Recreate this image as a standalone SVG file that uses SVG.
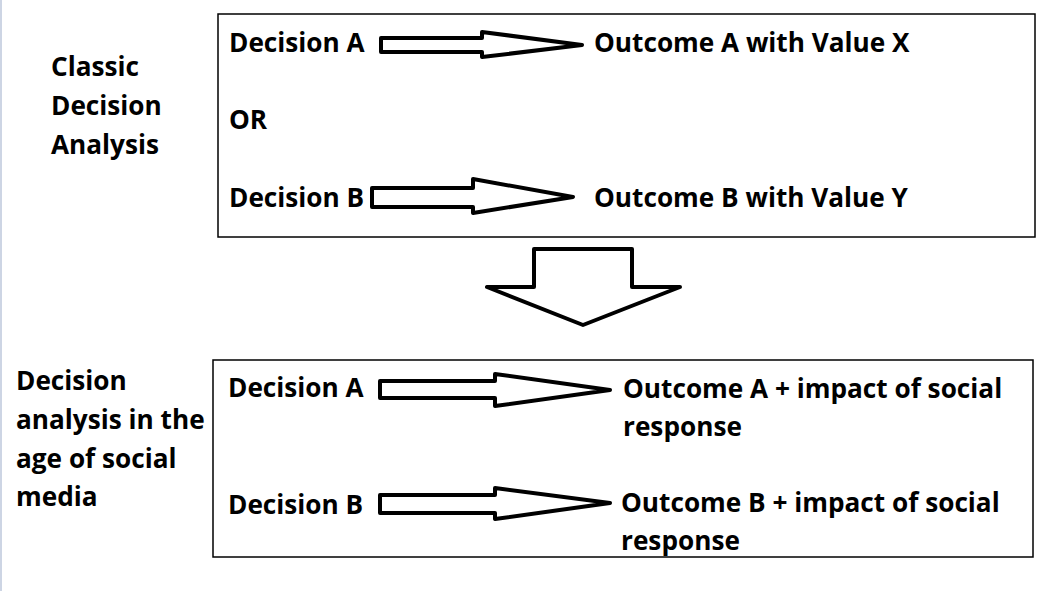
<svg xmlns="http://www.w3.org/2000/svg" width="1054" height="591" viewBox="0 0 1054 591">
<style>
text{font-family:"Open Sans","Liberation Sans",sans-serif;font-weight:bold;font-size:26.2px;fill:#000}
.box{fill:none;stroke:#000;stroke-width:1.5}
.arr{fill:#fff;stroke:#000;stroke-width:4;stroke-linejoin:round}
</style>
<rect x="0" y="0" width="1054" height="591" fill="#fff"/>
<rect x="0" y="0" width="2" height="591" fill="#cdd5e4"/>
<g id="labels">
<text x="51" y="76">Classic</text>
<text x="51" y="115">Decision</text>
<text x="51" y="154">Analysis</text>
<text x="16" y="390">Decision</text>
<text x="16" y="429">analysis in the</text>
<text x="16" y="468">age of social</text>
<text x="16" y="506">media</text>
</g>
<g id="box-classic">
<rect class="box" x="218" y="14" width="817" height="223"/>
<text x="229" y="52">Decision A</text>
<text x="229" y="129">OR</text>
<text x="229" y="207">Decision B</text>
<text x="594" y="52">Outcome A with Value X</text>
<text x="594" y="207">Outcome B with Value Y</text>
</g>
<g id="box-social">
<rect class="box" x="213" y="360" width="820" height="197"/>
<text x="228" y="397">Decision A</text>
<text x="623" y="398">Outcome A + impact of social</text>
<text x="623" y="436">response</text>
<text x="228" y="514">Decision B</text>
<text x="621" y="512">Outcome B + impact of social</text>
<text x="621" y="550">response</text>
</g>
<g id="connectors">
<path class="arr" d="M381 38 H482 V32 L582 45 L482 57 V52 H381 Z"/>
<path class="arr" d="M372 188 H473 V179 L573 197 L473 213 V207 H372 Z"/>
<path class="arr" d="M380 381 H495 V374 L610 390 L495 406 V398 H380 Z"/>
<path class="arr" d="M380 495 H495 V488 L610 503 L495 519 V513 H380 Z"/>
<path class="arr" d="M534 249 H632 V287 H680 L583 325 L487 287 H534 Z"/>
</g>
</svg>
